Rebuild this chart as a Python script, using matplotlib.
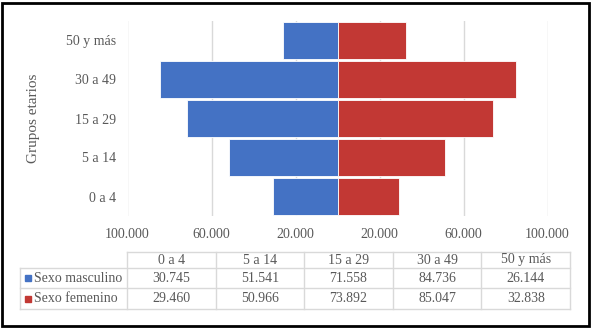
import matplotlib
matplotlib.use('Agg')
import matplotlib.pyplot as plt
from matplotlib.patches import Rectangle

plt.rcParams['font.family'] = ['Liberation Serif', 'DejaVu Serif']

grupos = ['0 a 4', '5 a 14', '15 a 29', '30 a 49', '50 y más']
masculino = [30745, 51541, 71558, 84736, 26144]
femenino = [29460, 50966, 73892, 85047, 32838]
series = ['Sexo masculino', 'Sexo femenino']
ticks = [-100000, -60000, -20000, 20000, 60000, 100000]

AZUL = '#4472C4'
ROJO = '#C23834'
GRIS = '#595959'
LINEA = '#D9D9D9'

W, H = 591, 329
fig = plt.figure(figsize=(W / 100, H / 100), dpi=100)


def px(x0, y0, x1, y1):
    # pixel box (top-left origin) -> figure fraction rect
    return [x0 / W, 1 - y1 / H, (x1 - x0) / W, (y1 - y0) / H]


# pyramid
ax = fig.add_axes(px(127.5, 21, 547.5, 216))
y = list(range(len(grupos)))
ax.barh(y, [-v for v in masculino], height=0.96, color=AZUL,
        edgecolor='white', linewidth=0.6, zorder=3)
ax.barh(y, femenino, height=0.96, color=ROJO,
        edgecolor='white', linewidth=0.6, zorder=3)
ax.set_xlim(-100000, 100000)
ax.set_ylim(-0.5, len(grupos) - 0.5)
ax.set_xticks(ticks)
ax.set_xticklabels([f"{abs(t):,}".replace(',', '.') for t in ticks],
                   fontsize=10, color=GRIS)
ax.set_yticks(y)
ax.set_yticklabels(grupos, fontsize=10, color=GRIS)
ax.tick_params(axis='x', length=0, pad=9)
ax.tick_params(axis='y', length=0, pad=8)
ax.grid(axis='x', color=LINEA, linewidth=1, zorder=0)
for s in ax.spines.values():
    s.set_visible(False)
fig.text(33 / W, 1 - 118 / H, 'Grupos etarios', rotation=90, fontsize=11,
         color=GRIS, ha='center', va='center')

# data table
x0, x1 = 20, 570
cols = [127 + i * (x1 - 127) / len(grupos) for i in range(len(grupos) + 1)]
rows = [252, 268, 288, 309]
tb = fig.add_axes(px(x0, rows[0], x1, rows[-1]))
tb.set_xlim(x0, x1)
tb.set_ylim(rows[-1], rows[0])
tb.axis('off')
lk = dict(color=LINEA, linewidth=1, clip_on=False)
tb.plot([cols[0], x1], [rows[0], rows[0]], **lk)
for r in rows[1:]:
    tb.plot([x0, x1], [r, r], **lk)
tb.plot([x0, x0], [rows[1], rows[-1]], **lk)
for c in cols:
    tb.plot([c, c], [rows[0], rows[-1]], **lk)

for i, g in enumerate(grupos):
    xc = (cols[i] + cols[i + 1]) / 2
    tb.text(xc, (rows[0] + rows[1]) / 2, g, ha='center', va='center',
            fontsize=10, color=GRIS)
    for j, vals in enumerate([masculino, femenino]):
        tb.text(xc, (rows[j + 1] + rows[j + 2]) / 2,
                f"{vals[i]:,}".replace(',', '.'), ha='center', va='center',
                fontsize=10, color=GRIS)

for j, (nombre, color) in enumerate(zip(series, [AZUL, ROJO])):
    yc = (rows[j + 1] + rows[j + 2]) / 2
    tb.add_patch(Rectangle((25, yc - 3), 6, 6, color=color, clip_on=False))
    tb.text(34, yc, nombre, ha='left', va='center', fontsize=10, color=GRIS)

# outer frame
fig.add_artist(Rectangle((2 / W, 3 / H), (W - 4) / W, (H - 6) / H,
                         transform=fig.transFigure, fill=False,
                         edgecolor='black', linewidth=2))

plt.savefig('out.png', dpi=100)
